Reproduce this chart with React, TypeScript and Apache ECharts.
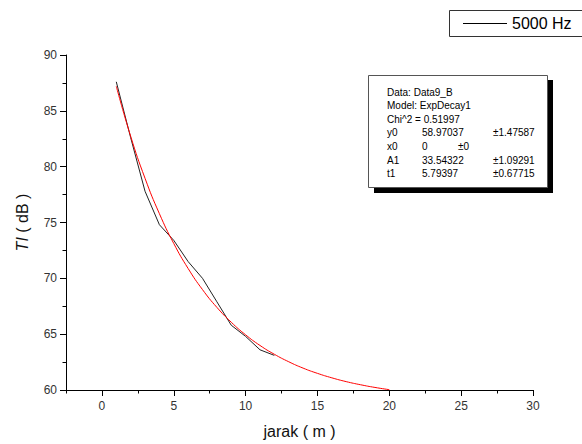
import React, { useEffect, useRef } from "react";
import * as echarts from "echarts";

const dataX = [1, 2, 3, 4, 5, 6, 7, 8, 9, 10, 11, 12];
const dataY = [87.6, 82.6, 77.8, 74.8, 73.4, 71.5, 70.0, 67.9, 65.8, 64.8, 63.6, 63.1];

const fitX = [1, 2, 3, 4, 5, 6, 7, 8, 9, 10, 11, 12, 13, 14, 15, 16, 17, 18, 19, 20];
const fitY = [87.2, 82.72, 78.96, 75.79, 73.12, 70.88, 68.99, 67.4, 66.07, 64.94, 63.99, 63.2, 62.53, 61.96, 61.49, 61.09, 60.75, 60.47, 60.23, 60.03];

const xMajor = [0, 5, 10, 15, 20, 25, 30];
const xMinor = [-2.5, 2.5, 7.5, 12.5, 17.5, 22.5, 27.5];
const yMajor = [60, 65, 70, 75, 80, 85, 90];
const yMinor = [62.5, 67.5, 72.5, 77.5, 82.5, 87.5];

const legendLabel = "5000 Hz";
const infoLines = ["Data: Data9_B", "Model: ExpDecay1", "Chi^2 = 0.51997"];
const paramRows = [
  ["y0", "58.97037", "±1.47587"],
  ["x0", "0", "±0"],
  ["A1", "33.54322", "±1.09291"],
  ["t1", "5.79397", "±0.67715"],
];

const FONT = "Liberation Sans, Arial, sans-serif";

export default function App() {
  const ref = useRef<HTMLDivElement>(null);
  useEffect(() => {
    if (!ref.current) return;
    const chart = echarts.init(ref.current, undefined, { renderer: "svg" });
    const axisLineStyle = { color: "#000", width: 1 };
    const graphics: any[] = [];
    // legend box
    graphics.push({ type: "rect", shape: { x: 449.5, y: 10.5, width: 140, height: 26 }, style: { fill: "#fff", stroke: "#333", lineWidth: 1 } });
    graphics.push({ type: "line", shape: { x1: 463, y1: 23.5, x2: 507, y2: 23.5 }, style: { stroke: "#000", lineWidth: 1 } });
    graphics.push({ type: "text", x: 512, y: 23.5, style: { text: legendLabel, font: "16px " + FONT, fill: "#000", verticalAlign: "middle" } });
    // info box shadow + box
    graphics.push({ type: "rect", shape: { x: 374, y: 80, width: 179, height: 113 }, style: { fill: "#000" } });
    graphics.push({ type: "rect", shape: { x: 368.5, y: 75.5, width: 179, height: 112 }, style: { fill: "#fff", stroke: "#555", lineWidth: 1 } });
    infoLines.forEach((t, i) => {
      graphics.push({ type: "text", x: 387, y: 92 + i * 13.6, style: { text: t, font: "10px " + FONT, fill: "#000", verticalAlign: "middle" } });
    });
    paramRows.forEach((r, i) => {
      const y = 92 + (i + 3) * 13.6;
      graphics.push({ type: "text", x: 387, y, style: { text: r[0], font: "10px " + FONT, fill: "#000", verticalAlign: "middle" } });
      graphics.push({ type: "text", x: 422, y, style: { text: r[1], font: "10px " + FONT, fill: "#000", verticalAlign: "middle" } });
      graphics.push({ type: "text", x: r[0] === "x0" ? 458 : 493, y, style: { text: r[2], font: "10px " + FONT, fill: "#000", verticalAlign: "middle" } });
    });

    chart.setOption({
      animation: false,
      backgroundColor: "#fff",
      grid: { left: 66, right: 49, top: 55, bottom: 53 },
      xAxis: [
        {
          type: "value", min: -2.5, max: 30, position: "bottom",
          name: "jarak ( m )", nameLocation: "middle", nameGap: 33,
          nameTextStyle: { fontSize: 16, fontFamily: FONT, color: "#111" },
          axisLine: { show: true, onZero: false, lineStyle: axisLineStyle },
          axisTick: { show: true, length: 6, customValues: xMajor, lineStyle: axisLineStyle },
          axisLabel: { customValues: xMajor, fontSize: 12, fontFamily: FONT, color: "#333", margin: 10 },
          splitLine: { show: false },
        },
        {
          type: "value", min: -2.5, max: 30, position: "bottom",
          axisLine: { show: false, onZero: false },
          axisTick: { show: true, length: 3.5, customValues: xMinor, lineStyle: axisLineStyle },
          axisLabel: { show: false },
          splitLine: { show: false },
        },
      ],
      yAxis: [
        {
          type: "value", min: 60, max: 90, position: "left",
          name: "{i|TI}{n| ( dB )}", nameLocation: "middle", nameGap: 36, nameRotate: 90,
          nameTextStyle: {
            rich: {
              i: { fontSize: 16, fontFamily: FONT, fontStyle: "italic", color: "#111" },
              n: { fontSize: 16, fontFamily: FONT, color: "#111" },
            },
          },
          axisLine: { show: true, onZero: false, lineStyle: axisLineStyle },
          axisTick: { show: true, length: 6, customValues: yMajor, lineStyle: axisLineStyle },
          axisLabel: { customValues: yMajor, fontSize: 12, fontFamily: FONT, color: "#333", margin: 9 },
          splitLine: { show: false },
        },
        {
          type: "value", min: 60, max: 90, position: "left",
          axisLine: { show: false, onZero: false },
          axisTick: { show: true, length: 3.5, customValues: yMinor, lineStyle: axisLineStyle },
          axisLabel: { show: false },
          splitLine: { show: false },
        },
      ],
      series: [
        {
          type: "line", xAxisIndex: 0, yAxisIndex: 0,
          data: dataX.map((x, i) => [x, dataY[i]]),
          showSymbol: false, symbol: "none",
          lineStyle: { color: "#222", width: 1 },
        },
        {
          type: "line", xAxisIndex: 0, yAxisIndex: 0,
          data: fitX.map((x, i) => [x, fitY[i]]),
          showSymbol: false, symbol: "none", smooth: true,
          lineStyle: { color: "#ff0000", width: 1 },
        },
      ],
      graphic: graphics,
    });
    return () => chart.dispose();
  }, []);
  return <div ref={ref} style={{ width: 582, height: 444, position: "absolute", left: 0, top: 0 }} />;
}
